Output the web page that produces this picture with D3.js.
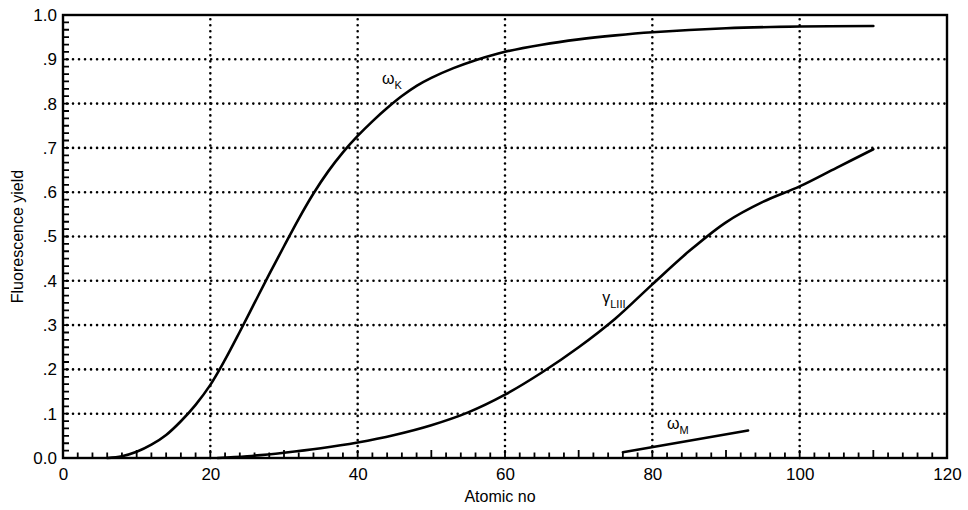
<!DOCTYPE html>
<html><head><meta charset="utf-8">
<script src="https://cdn.jsdelivr.net/npm/d3@7"></script>
<style>
body{margin:0;background:#fff;}
text{font-family:"Liberation Sans",Arial,Helvetica,sans-serif;fill:#000;}
</style></head>
<body>
<svg id="chart" width="968" height="510"></svg>
<script>
// ---- data ----
const xTicks = [0, 20, 40, 60, 80, 100, 120];
const yTicks = [0, 0.1, 0.2, 0.3, 0.4, 0.5, 0.6, 0.7, 0.8, 0.9, 1.0];
const yTickLabels = ["0.0", ".1", ".2", ".3", ".4", ".5", ".6", ".7", ".8", ".9", "1.0"];
const xGrid = [20, 40, 60, 80, 100];
const yGrid = [0.1, 0.2, 0.3, 0.4, 0.5, 0.6, 0.7, 0.8, 0.9];

const omegaK_Z = [6, 8, 10, 12, 14, 16, 18, 20, 22, 24, 26, 28, 30, 32, 34, 36, 38, 40, 42, 44, 46, 48, 50, 53, 56, 60, 65, 70, 75, 80, 90, 100, 110];
const omegaK_Y = [0, 0.004, 0.014, 0.03, 0.052, 0.083, 0.12, 0.165, 0.222, 0.285, 0.35, 0.415, 0.478, 0.54, 0.597, 0.647, 0.69, 0.727, 0.76, 0.79, 0.817, 0.84, 0.858, 0.88, 0.898, 0.917, 0.933, 0.945, 0.954, 0.961, 0.97, 0.974, 0.975];

const gammaL3_Z = [21, 25, 30, 35, 40, 45, 50, 55, 60, 65, 70, 75, 80, 85, 90, 95, 100, 105, 110];
const gammaL3_Y = [0, 0.004, 0.012, 0.022, 0.035, 0.052, 0.074, 0.103, 0.143, 0.193, 0.25, 0.315, 0.392, 0.467, 0.532, 0.578, 0.613, 0.655, 0.697];

const omegaM_Z = [76, 93];
const omegaM_Y = [0.013, 0.062];

const xTitle = "Atomic no";
const yTitle = "Fluorescence yield";

// ---- chart ----
const svg = d3.select("#chart");
const x = d3.scaleLinear().domain([0, 120]).range([63, 947]);
const y = d3.scaleLinear().domain([0, 1]).range([458, 15]);
const [x0, x1] = x.range();
const [y0, y1] = y.range();

// grid (dotted)
const grid = svg.append("g").attr("stroke", "#000").attr("stroke-width", 2.6)
  .attr("stroke-dasharray", "0.01,6").attr("stroke-linecap", "round");
grid.selectAll("line.h").data(yGrid).join("line").attr("class", "h")
  .attr("x1", x0 + 4).attr("x2", x1).attr("y1", d => y(d)).attr("y2", d => y(d));
grid.selectAll("line.v").data(xGrid).join("line").attr("class", "v")
  .attr("y1", y0).attr("y2", y1).attr("x1", d => x(d)).attr("x2", d => x(d));

// minor ticks (inward), one path each axis
const minorX = d3.range(2, 120, 2);
const minorY = d3.range(1, 60).map(i => i / 60);
const tickPathX = minorX.map(d => `M${x(d)},${y0 + 1}V${y0 - (d % 10 === 0 ? 8 : 5.5)}`).join("");
const tickPathY = minorY.map(d => `M${x0 - 1},${y(d)}H${x0 + 6}`).join("");
svg.append("path").attr("d", tickPathX).attr("fill", "none").attr("stroke", "#000").attr("stroke-width", 1.8);
svg.append("path").attr("d", tickPathY).attr("fill", "none").attr("stroke", "#000").attr("stroke-width", 1.8);

// frame
svg.append("rect").attr("x", x0).attr("y", y1).attr("width", x1 - x0).attr("height", y0 - y1)
  .attr("fill", "none").attr("stroke", "#000").attr("stroke-width", 2.4);

// axes labels via d3 axes
const xAxis = d3.axisBottom(x).tickValues(xTicks).tickSize(0).tickPadding(10).tickFormat(d3.format("d"));
const gx = svg.append("g").attr("transform", `translate(0,${y0})`).call(xAxis);
gx.select(".domain").remove();
gx.selectAll("text").attr("font-size", 17).attr("font-family", "Liberation Sans, Arial, sans-serif").attr("fill", "#000");

const yAxis = d3.axisLeft(y).tickValues(yTicks).tickSize(0).tickPadding(6).tickFormat((d, i) => yTickLabels[i]);
const gy = svg.append("g").attr("transform", `translate(${x0},0)`).call(yAxis);
gy.select(".domain").remove();
gy.selectAll("text").attr("font-size", 17).attr("font-family", "Liberation Sans, Arial, sans-serif").attr("fill", "#000");

// curves
const line = d3.line().x(d => x(d[0])).y(d => y(d[1])).curve(d3.curveCatmullRom.alpha(0.5));
const curves = [
  d3.zip(omegaK_Z, omegaK_Y),
  d3.zip(gammaL3_Z, gammaL3_Y),
  d3.zip(omegaM_Z, omegaM_Y)
];
svg.append("g").selectAll("path").data(curves).join("path")
  .attr("d", line).attr("fill", "none").attr("stroke", "#000").attr("stroke-width", 2.6)
  .attr("stroke-linecap", "round");

// curve labels
function label(px, py, main, sub) {
  const t = svg.append("text").attr("x", px).attr("y", py).attr("font-size", 16);
  t.append("tspan").text(main);
  t.append("tspan").attr("font-size", 11).attr("dy", 5).text(sub);
}
label(x(43.3), y(0.845), "ω", "K");
label(x(73.2), y(0.35), "γ", "LIII");
label(x(82), y(0.066), "ω", "M");

// titles
svg.append("text").attr("x", (x0 + x1) / 2 - 5).attr("y", 502).attr("text-anchor", "middle")
  .attr("font-size", 16).text(xTitle);
svg.append("text").attr("transform", `translate(23,${(y0 + y1) / 2}) rotate(-90)`)
  .attr("text-anchor", "middle").attr("font-size", 16).text(yTitle);
</script>
</body></html>
